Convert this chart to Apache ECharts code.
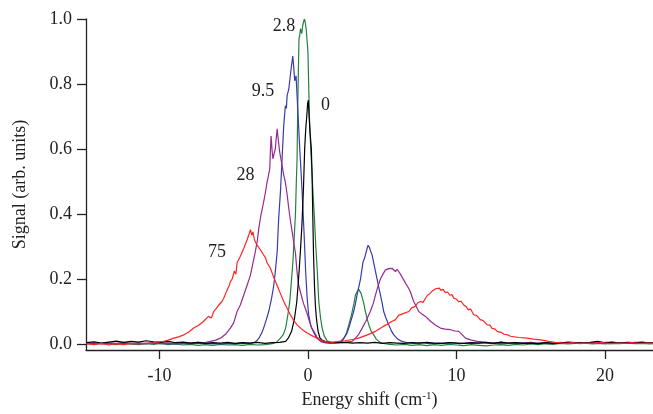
<!DOCTYPE html>
<html><head><meta charset="utf-8">
<script src="https://cdn.jsdelivr.net/npm/echarts@6/dist/echarts.min.js"></script>
<style>html,body{margin:0;padding:0;background:#fff}#c{width:653px;height:414px}</style>
</head><body><div id="c"></div>
<script>
const xTicks = [-10, 0, 10, 20];
const yTicks = [0, 0.2, 0.4, 0.6, 0.8, 1.0];
const labels = ['0', '2.8', '9.5', '28', '75'];
const labelPos = [[1.18, 0.735], [-1.61, 0.977], [-3.02, 0.779], [-4.2, 0.518], [-6.12, 0.283]];

const black = [[-14.9,0.004],[-14.4,0.007],[-13.9,0.003],[-13.4,0.006],[-12.9,0.009],[-12.4,0.005],[-11.9,0.008],[-11.4,0.006],[-10.9,0.010],[-10.4,0.007],[-9.9,0.005],[-9.4,0.008],[-8.9,0.004],[-8.4,0.006],[-7.9,0.003],[-7.4,0.005],[-6.9,0.002],[-6.4,0.004],[-5.9,0.003],[-5.4,0.005],[-4.9,0.002],[-4.4,0.004],[-3.9,0.003],[-3.4,0.005],[-2.9,0.002],[-2.4,0.004],[-1.9,0.005],
[-1.5,0.008],[-1.3,0.02],[-1.1,0.039],[-0.9,0.08],[-0.75,0.13],[-0.6,0.22],[-0.5,0.29],[-0.4,0.37],[-0.3,0.48],[-0.22,0.6],[-0.15,0.66],[-0.08,0.7],[-0.02,0.74],[0.03,0.75],[0.08,0.7],[0.13,0.66],[0.18,0.63],[0.23,0.6],[0.28,0.52],[0.33,0.39],[0.38,0.27],[0.44,0.18],[0.5,0.12],[0.57,0.08],[0.68,0.04],[0.8,0.02],[0.95,0.012],[1.1,0.009],[1.3,0.006],[1.6,0.005],[2.0,0.004],[2.5,0.005],[3.0,0.003],
[3.5,0.004],[4.0,0.003],[4.5,0.005],[5.0,0.002],[5.5,0.004],[6.0,0.003],[6.5,0.002],[7.0,0.004],[7.5,0.003],[8.0,0.005],[8.5,0.003],[9.0,0.002],[9.5,0.004],[10.0,0.003],[10.5,0.002],[11.0,0.004],[11.5,0.003],[12.0,0.005],[12.5,0.002],[13.0,0.006],[13.5,0.003],[14.0,0.004],[14.5,0.002],[15.0,0.003],[15.5,0.001],[16.0,0.004],[16.5,0.002],[17.0,0.003],[17.5,0.006],[18.0,0.004],[18.5,0.003],[19.0,0.005],[19.5,0.008],[20.0,0.004],[20.5,0.006],[21.0,0.003],[21.5,0.005],[22.0,0.004],[22.5,0.006],[23.0,0.003],[23.3,0.004]];

const green = [[-14.9,0.002],[-14.4,-0.001],[-13.9,0.003],[-13.4,0.0],[-12.9,-0.002],[-12.4,0.002],[-11.9,0.0],[-11.4,-0.002],[-10.9,0.001],[-10.4,-0.001],[-9.9,0.002],[-9.4,-0.002],[-8.9,0.0],[-8.4,-0.003],[-7.9,-0.001],[-7.4,-0.004],[-6.9,-0.002],[-6.4,-0.004],[-5.9,-0.001],[-5.4,-0.003],[-4.9,-0.002],[-4.4,-0.004],[-3.9,-0.001],[-3.4,-0.003],[-2.9,-0.002],[-2.4,0.001],[-2.1,0.006],
[-1.85,0.018],[-1.65,0.03],[-1.5,0.049],[-1.35,0.09],[-1.22,0.131],[-1.1,0.2],[-1.0,0.26],[-0.9,0.35],[-0.84,0.4],[-0.78,0.5],[-0.73,0.57],[-0.69,0.72],[-0.64,0.85],[-0.6,0.94],[-0.55,0.95],[-0.5,0.97],[-0.42,0.955],[-0.35,0.98],[-0.3,0.99],[-0.24,1.0],[-0.18,0.99],[-0.12,0.97],[-0.05,0.93],[0.0,0.9],[0.05,0.8],[0.1,0.7],[0.17,0.62],[0.28,0.52],[0.36,0.45],[0.44,0.386],[0.53,0.3],[0.62,0.233],[0.73,0.131],[0.85,0.08],[0.96,0.049],[1.1,0.025],[1.29,0.01],[1.5,0.005],[1.8,0.003],[2.1,0.004],
[2.3,0.008],[2.45,0.02],[2.6,0.035],[2.75,0.059],[2.88,0.08],[2.98,0.1],[3.1,0.125],[3.2,0.151],[3.3,0.16],[3.42,0.168],[3.5,0.162],[3.58,0.156],[3.65,0.151],[3.76,0.125],[3.87,0.1],[4.0,0.075],[4.1,0.059],[4.25,0.04],[4.43,0.028],[4.6,0.015],[4.77,0.008],[5.0,0.003],
[5.5,-0.001],[6.0,-0.003],[6.5,-0.001],[7.0,-0.004],[7.5,-0.002],[8.0,-0.005],[8.5,-0.002],[9.0,-0.004],[9.5,-0.001],[10.0,-0.003],[10.5,-0.005],[11.0,-0.002],[11.5,-0.004],[12.0,-0.006],[12.5,-0.003],[13.0,-0.002],[13.5,-0.004],[14.0,-0.001],[14.5,-0.003],[15.0,0.0],[15.5,-0.002],[16.0,0.001],[16.5,-0.001],[17.0,0.002],[17.5,0.0],[18.0,0.002],[18.5,0.003],[19.0,0.001],[19.5,0.002],[20.0,0.0],[20.5,0.002],[21.0,0.001],[21.5,0.003],[22.0,0.001],[22.5,0.002],[23.0,0.0],[23.3,0.002]];

const blue = [[-14.9,0.001],[-14.4,0.003],[-13.9,0.0],[-13.4,0.002],[-12.9,0.001],[-12.4,0.003],[-11.9,0.0],[-11.4,0.002],[-10.9,0.001],[-10.4,0.003],[-9.9,0.001],[-9.4,0.002],[-8.9,0.0],[-8.4,0.002],[-7.9,0.001],[-7.4,0.003],[-6.9,0.001],[-6.4,0.002],[-5.9,0.0],[-5.4,0.002],[-4.9,0.001],[-4.4,0.003],[-3.9,0.002],[-3.6,0.005],[-3.45,0.01],
[-3.3,0.018],[-3.1,0.035],[-2.98,0.049],[-2.8,0.075],[-2.64,0.1],[-2.45,0.14],[-2.3,0.18],[-2.18,0.23],[-2.07,0.284],[-1.97,0.386],[-1.85,0.468],[-1.74,0.57],[-1.63,0.672],[-1.52,0.733],[-1.45,0.725],[-1.4,0.764],[-1.29,0.784],[-1.2,0.82],[-1.11,0.855],[-1.05,0.875],[-1.02,0.886],[-0.96,0.855],[-0.89,0.81],[-0.8,0.825],[-0.73,0.764],[-0.65,0.69],[-0.55,0.6],[-0.45,0.52],[-0.35,0.43],[-0.25,0.33],[-0.15,0.22],[-0.05,0.14],[0.05,0.09],[0.2,0.055],[0.4,0.035],[0.6,0.018],[0.85,0.008],[1.1,0.004],[1.5,0.002],[1.9,0.004],
[2.2,0.008],[2.41,0.018],[2.6,0.03],[2.75,0.049],[2.92,0.075],[3.08,0.1],[3.2,0.125],[3.31,0.151],[3.42,0.175],[3.54,0.2],[3.62,0.225],[3.71,0.253],[3.8,0.262],[3.87,0.274],[3.96,0.29],[4.05,0.304],[4.15,0.296],[4.25,0.282],[4.32,0.274],[4.45,0.245],[4.55,0.223],[4.7,0.19],[4.88,0.151],[5.0,0.125],[5.1,0.1],[5.25,0.08],[5.44,0.059],[5.6,0.042],[5.78,0.028],[6.05,0.015],[6.34,0.008],[6.7,0.004],
[7.2,0.002],[7.7,0.004],[8.2,0.001],[8.7,0.003],[9.2,0.002],[9.7,0.004],[10.2,0.001],[10.7,0.003],[11.2,0.002],[11.7,0.004],[12.2,0.002],[12.7,0.003],[13.2,0.001],[13.7,0.003],[14.2,0.002],[14.7,0.004],[15.2,0.002],[15.7,0.003],[16.2,0.001],[16.7,0.003],[17.2,0.002],[17.7,0.004],[18.2,0.002],[18.7,0.003],[19.2,0.001],[19.7,0.003],[20.2,0.002],[20.7,0.004],[21.2,0.002],[21.7,0.003],[22.2,0.002],[22.7,0.004],[23.3,0.002]];

const purple = [[-14.9,0.002],[-14.4,0.004],[-13.9,0.001],[-13.4,0.003],[-12.9,0.002],[-12.4,0.004],[-11.9,0.002],[-11.4,0.003],[-10.9,0.001],[-10.4,0.004],[-9.9,0.002],[-9.4,0.003],[-8.9,0.002],[-8.4,0.004],[-7.9,0.003],[-7.4,0.005],[-7.0,0.004],[-6.57,0.008],[-6.2,0.012],[-5.89,0.018],[-5.55,0.03],[-5.22,0.049],[-5.0,0.065],[-4.77,0.1],[-4.55,0.12],[-4.32,0.151],[-4.1,0.18],[-3.87,0.212],[-3.7,0.25],[-3.54,0.284],[-3.4,0.32],[-3.31,0.355],[-3.15,0.4],[-2.98,0.437],[-2.85,0.47],[-2.75,0.498],[-2.65,0.52],[-2.57,0.539],[-2.52,0.6],[-2.48,0.64],[-2.42,0.6],[-2.36,0.57],[-2.3,0.57],[-2.2,0.6],[-2.12,0.64],[-2.07,0.662],[-2.0,0.63],[-1.9,0.59],[-1.82,0.57],[-1.74,0.549],[-1.63,0.52],[-1.52,0.498],[-1.4,0.46],[-1.29,0.417],[-1.18,0.38],[-1.06,0.345],[-0.95,0.31],[-0.84,0.28],[-0.73,0.22],[-0.62,0.18],[-0.45,0.15],[-0.3,0.125],[-0.1,0.1],[0.1,0.07],[0.25,0.05],[0.4,0.039],[0.6,0.022],[0.85,0.01],[1.1,0.006],[1.5,0.004],[2.0,0.004],[2.5,0.005],
[2.98,0.008],[3.2,0.018],[3.42,0.03],[3.65,0.049],[3.9,0.07],[4.2,0.1],[4.4,0.125],[4.55,0.151],[4.7,0.175],[4.88,0.2],[5.05,0.215],[5.22,0.228],[5.45,0.232],[5.67,0.233],[5.8,0.228],[5.89,0.223],[6.0,0.23],[6.11,0.233],[6.23,0.215],[6.35,0.205],[6.45,0.2],[6.6,0.185],[6.79,0.171],[6.9,0.16],[7.12,0.131],[7.3,0.115],[7.46,0.1],[7.6,0.095],[7.91,0.085],[8.25,0.07],[8.6,0.058],[8.92,0.049],[9.25,0.046],[9.6,0.044],[9.9,0.04],[10.15,0.039],[10.4,0.028],[10.6,0.018],[11.0,0.012],[11.4,0.008],[12.0,0.005],
[12.5,0.003],[13.0,0.005],[13.5,0.002],[14.0,0.004],[14.5,0.003],[15.0,0.005],[15.5,0.002],[16.0,0.004],[16.5,0.003],[17.0,0.005],[17.5,0.003],[18.0,0.004],[18.5,0.002],[19.0,0.004],[19.5,0.003],[20.0,0.005],[20.5,0.002],[21.0,0.004],[21.5,0.003],[22.0,0.005],[22.5,0.003],[23.0,0.004],[23.3,0.002]];

const red = [[-14.9,0.001],[-14.4,-0.002],[-13.9,0.002],[-13.4,-0.003],[-12.9,0.001],[-12.4,-0.002],[-11.9,0.002],[-11.4,0.0],[-10.9,0.003],[-10.5,0.002],[-10.2,0.006],[-9.71,0.008],[-9.4,0.012],[-9.04,0.018],[-8.7,0.022],[-8.36,0.028],[-8.0,0.038],[-7.69,0.049],[-7.35,0.058],[-7.02,0.07],[-6.7,0.085],[-6.5,0.08],[-6.34,0.1],[-6.0,0.12],[-5.8,0.13],[-5.67,0.141],[-5.45,0.165],[-5.3,0.18],[-5.22,0.192],[-5.1,0.2],[-4.95,0.225],[-4.85,0.215],[-4.77,0.25],[-4.55,0.27],[-4.42,0.265],[-4.32,0.294],[-4.1,0.32],[-3.95,0.34],[-3.87,0.352],[-3.78,0.335],[-3.7,0.345],[-3.6,0.32],[-3.5,0.315],[-3.42,0.304],[-3.3,0.308],[-3.2,0.29],[-2.98,0.274],[-2.85,0.265],[-2.75,0.25],[-2.53,0.233],[-2.3,0.205],[-2.2,0.2],[-2.07,0.18],[-1.85,0.155],[-1.63,0.131],[-1.4,0.11],[-1.18,0.09],[-0.95,0.072],[-0.73,0.059],[-0.4,0.045],[-0.05,0.034],[0.3,0.025],[0.62,0.018],[1.0,0.01],[1.29,0.006],[1.7,0.006],[2.1,0.008],[2.5,0.01],[3.0,0.014],[3.42,0.018],[4.0,0.028],[4.55,0.039],
[5.1,0.055],[5.4,0.062],[5.67,0.07],[5.9,0.075],[6.1,0.088],[6.23,0.085],[6.5,0.095],[6.79,0.1],[7.0,0.112],[7.2,0.115],[7.4,0.127],[7.58,0.131],[7.75,0.128],[7.91,0.14],[8.05,0.15],[8.2,0.155],[8.35,0.162],[8.45,0.158],[8.6,0.17],[8.7,0.166],[8.85,0.172],[8.95,0.165],[9.1,0.168],[9.25,0.158],[9.4,0.16],[9.55,0.15],[9.7,0.152],[9.82,0.141],[10.0,0.138],[10.15,0.13],[10.3,0.132],[10.49,0.12],[10.65,0.115],[10.8,0.105],[10.95,0.108],[11.16,0.09],[11.35,0.088],[11.6,0.075],[11.8,0.072],[12.07,0.059],[12.25,0.058],[12.4,0.048],[12.6,0.046],[12.74,0.039],[13.0,0.036],[13.2,0.03],[13.4,0.029],[13.64,0.024],[14.2,0.02],[14.76,0.018],[15.2,0.015],[15.66,0.013],[16.2,0.008],[16.8,0.004],
[17.3,0.002],[17.8,0.004],[18.3,0.001],[18.8,0.003],[19.3,0.002],[19.8,0.004],[20.3,0.001],[20.8,0.003],[21.3,0.002],[21.8,0.004],[22.3,0.002],[22.8,0.003],[23.3,0.002]];

const seriesData = [black, green, blue, purple, red];
const colors = ['#000000', '#23803f', '#3a3aaa', '#952a91', '#ff2424'];
const FONT = '"Liberation Serif", "Times New Roman", serif';

const chart = echarts.init(document.getElementById('c'));
const series = [];
const order = [1, 2, 3, 0, 4];
order.forEach(i => {
  series.push({
    type: 'line', data: seriesData[i], showSymbol: false, symbol: 'none',
    lineStyle: { color: colors[i], width: 1.2 }, itemStyle: { color: colors[i] },
    animation: false, silent: true,
    markPoint: {
      symbol: 'circle', symbolSize: 0, animation: false,
      label: { show: true, position: 'inside', color: '#222', fontFamily: FONT, fontSize: 18, formatter: labels[i] },
      data: [{ coord: labelPos[i], value: labels[i] }]
    }
  });
});

chart.setOption({
  animation: false,
  grid: { left: 86, right: 0, top: 19, bottom: 62 },
  xAxis: {
    type: 'value', min: -14.94, max: 23.23,
    name: 'Energy shift (cm{sup|-1})', nameLocation: 'middle', nameGap: 41,
    nameTextStyle: { fontFamily: FONT, fontSize: 18, color: '#222',
      rich: { sup: { fontFamily: FONT, fontSize: 11, verticalAlign: 'top', lineHeight: 11, color: '#222' } } },
    axisLine: { onZero: false, lineStyle: { color: '#222', width: 1.3 } },
    axisTick: { show: true, length: 9, customValues: xTicks, lineStyle: { color: '#222', width: 1.3 } },
    axisLabel: { customValues: xTicks, margin: 17, fontFamily: FONT, fontSize: 18, color: '#222' },
    splitLine: { show: false }
  },
  yAxis: {
    type: 'value', min: -0.0184, max: 1.0,
    name: 'Signal (arb. units)', nameLocation: 'middle', nameGap: 57,
    nameTextStyle: { fontFamily: FONT, fontSize: 18, color: '#222' },
    axisLine: { show: true, onZero: false, lineStyle: { color: '#222', width: 1.3 } },
    axisTick: { show: true, length: 9, customValues: yTicks, lineStyle: { color: '#222', width: 1.3 } },
    axisLabel: { customValues: yTicks, margin: 14, fontFamily: FONT, fontSize: 18, color: '#222',
      formatter: v => v.toFixed(1) },
    splitLine: { show: false }
  },
  series: series
});
</script></body></html>
